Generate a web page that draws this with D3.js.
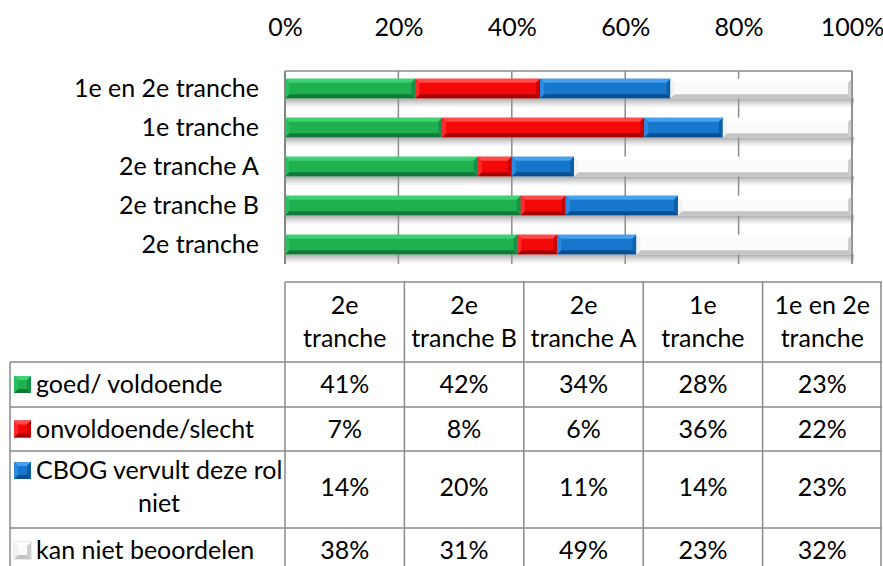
<!DOCTYPE html>
<html>
<head>
<meta charset="utf-8">
<script src="https://cdn.jsdelivr.net/npm/d3@7"></script>
<style>
  html, body { margin: 0; padding: 0; background: #fff; }
  svg { display: block; }
  text { font-family: "Lato", "Open Sans", sans-serif; fill: #000; }
</style>
</head>
<body>
<svg id="chart" width="883" height="566"></svg>
<script>
// ---------- DATA ----------
const barCategories = ["1e en 2e tranche", "1e tranche", "2e tranche A", "2e tranche B", "2e tranche"];
const tableColumns = ["2e tranche", "2e tranche B", "2e tranche A", "1e tranche", "1e en 2e tranche"];
const tableHeaderLines = [["2e", "tranche"], ["2e", "tranche B"], ["2e", "tranche A"], ["1e", "tranche"], ["1e en 2e", "tranche"]];
const seriesNames = ["goed/ voldoende", "onvoldoende/slecht", "CBOG vervult deze rol niet", "kan niet beoordelen"];
// values per series, in tableColumns order
const goed        = [41, 42, 34, 28, 23];
const onvoldoende = [7, 8, 6, 36, 22];
const cbog        = [14, 20, 11, 14, 23];
const kanNiet     = [38, 31, 49, 23, 32];
const axisTicks = [0, 0.2, 0.4, 0.6, 0.8, 1.0];

// ---------- STYLE ----------
const palette = [
  { main: "#1fb150", light: "#3fd272", dark: "#12793a", side: "#28c05e", rside: "#17924a" },
  { main: "#f50808", light: "#ff4a4a", dark: "#a80000", side: "#ff2a2a", rside: "#c80000" },
  { main: "#1677cc", light: "#46a0ee", dark: "#0a4f92", side: "#2a8ae0", rside: "#0d5fa8" },
  { main: "#fbfbfb", light: "#ffffff", dark: "#c4c4c4", side: "#f2f2f2", rside: "#cfcfcf" }
];
const seriesValues = [goed, onvoldoende, cbog, kanNiet];
const keys = seriesNames;

const rows = tableColumns.map((c, i) => {
  const o = { cat: c };
  keys.forEach((k, j) => o[k] = seriesValues[j][i]);
  return o;
});

const svg = d3.select("#chart");
const FS = 25;

const x = d3.scaleLinear().domain([0, 1]).range([285, 852]);
const y = d3.scaleBand().domain(barCategories).range([69, 264]).paddingInner(0.5).paddingOuter(0.25);

const defs = svg.append("defs");
const sg = defs.append("linearGradient").attr("id", "shadow").attr("x1", 0).attr("y1", 0).attr("x2", 0).attr("y2", 1);
sg.append("stop").attr("offset", "0%").attr("stop-color", "#808080").attr("stop-opacity", 0.7);
sg.append("stop").attr("offset", "100%").attr("stop-color", "#bbb").attr("stop-opacity", 0);

// ---------- PLOT FRAME & GRID ----------
const grid = svg.append("g");
const plotTop = 71, plotBottom = 264;
grid.selectAll("line.v").data(axisTicks.slice(1)).join("line")
  .attr("x1", d => x(d)).attr("x2", d => x(d))
  .attr("y1", plotTop).attr("y2", plotBottom)
  .attr("stroke", "#8a8a8a").attr("stroke-width", 1.5);
grid.append("line").attr("x1", x(0)).attr("x2", x(1)).attr("y1", plotTop).attr("y2", plotTop)
  .attr("stroke", "#8a8a8a").attr("stroke-width", 1.5);

// ---------- BARS ----------
const stack = d3.stack().keys(keys).offset(d3.stackOffsetExpand);
const stacked = stack(rows);

// shadows
svg.append("g").selectAll("rect").data(barCategories).join("rect")
  .attr("x", x(0)).attr("width", x(1) - x(0) + 2)
  .attr("y", d => y(d) + y.bandwidth()).attr("height", 10)
  .attr("fill", "url(#shadow)");

function bevel(g, x0, x1, y0, h, col) {
  const w = x1 - x0;
  const b = Math.min(4, w / 2, h / 2);
  const y1 = y0 + h;
  g.append("rect").attr("x", x0).attr("y", y0).attr("width", w).attr("height", h).attr("fill", col.main);
  const poly = (pts, fill) => g.append("polygon").attr("points", pts.map(p => p.join(",")).join(" ")).attr("fill", fill);
  poly([[x0, y0], [x1, y0], [x1 - b, y0 + b], [x0 + b, y0 + b]], col.light);
  poly([[x0, y1], [x1, y1], [x1 - b, y1 - b], [x0 + b, y1 - b]], col.dark);
  poly([[x0, y0], [x0 + b, y0 + b], [x0 + b, y1 - b], [x0, y1]], col.side);
  poly([[x1, y0], [x1 - b, y0 + b], [x1 - b, y1 - b], [x1, y1]], col.rside);
}

const barsG = svg.append("g");
stacked.forEach((s, si) => {
  s.forEach(d => {
    bevel(barsG, x(d[0]), x(d[1]), y(d.data.cat), y.bandwidth(), palette[si]);
  });
});

// left axis line
svg.append("line").attr("x1", x(0)).attr("x2", x(0)).attr("y1", plotTop).attr("y2", plotBottom)
  .attr("stroke", "#858585").attr("stroke-width", 2);
svg.append("line").attr("x1", x(1)).attr("x2", x(1)).attr("y1", plotTop).attr("y2", plotBottom)
  .attr("stroke", "#8a8a8a").attr("stroke-width", 1.5);

// ---------- AXES ----------
const topAxis = svg.append("g").attr("transform", "translate(0,36)")
  .call(d3.axisTop(x).tickValues(axisTicks).tickFormat(d3.format(".0%")).tickSize(0).tickPadding(0));
topAxis.select(".domain").remove();
topAxis.selectAll("text").style("font-size", FS + "px").style("font-family", "Lato").attr("fill", "#000");

const leftAxis = svg.append("g").attr("transform", `translate(${x(0)},0)`)
  .call(d3.axisLeft(y).tickSize(0).tickPadding(26));
leftAxis.select(".domain").remove();
leftAxis.selectAll("text").style("font-size", FS + "px").style("font-family", "Lato").attr("fill", "#000").attr("dy", "0.35em");

// ---------- DATA TABLE ----------
const tbl = svg.append("g");
const colX = d3.scaleBand().domain(tableColumns).range([285, 882]);
const headerTop = 282;
const rowTops = [362, 407, 451, 528];
const rowBottoms = [407, 451, 528, 573];
const labelLeft = 10;
const lineCol = "#8a8a8a";

// horizontal lines
tbl.append("line").attr("x1", colX.range()[0]).attr("x2", colX.range()[1]).attr("y1", headerTop).attr("y2", headerTop)
  .attr("stroke", lineCol).attr("stroke-width", 1.5);
tbl.selectAll("line.h").data(rowTops.concat([rowBottoms[rowBottoms.length - 1]])).join("line")
  .attr("x1", labelLeft).attr("x2", colX.range()[1]).attr("y1", d => d).attr("y2", d => d)
  .attr("stroke", lineCol).attr("stroke-width", 1.5);
// vertical lines
const vxs = tableColumns.map(c => colX(c)).concat([colX.range()[1] - 1]);
tbl.selectAll("line.vv").data(vxs).join("line")
  .attr("x1", d => d).attr("x2", d => d).attr("y1", headerTop).attr("y2", 573)
  .attr("stroke", lineCol).attr("stroke-width", 1.5);
tbl.append("line").attr("x1", labelLeft).attr("x2", labelLeft).attr("y1", rowTops[0]).attr("y2", 573)
  .attr("stroke", lineCol).attr("stroke-width", 1.5);

// header text
tableColumns.forEach((c, i) => {
  const cx = colX(c) + colX.bandwidth() / 2;
  tbl.append("text").attr("x", cx).attr("y", 305).attr("dy", "0.35em").attr("text-anchor", "middle")
    .style("font-size", FS + "px").text(tableHeaderLines[i][0]);
  tbl.append("text").attr("x", cx).attr("y", 338).attr("dy", "0.35em").attr("text-anchor", "middle")
    .style("font-size", FS + "px").text(tableHeaderLines[i][1]);
});

// row labels + legend icons + values
seriesNames.forEach((name, si) => {
  const cy = (rowTops[si] + rowBottoms[si]) / 2;
  const twoLine = si === 2;
  const firstY = twoLine ? cy - 19 : (si === 3 ? 384.5 + (rowTops[3] - rowTops[0]) : cy);
  const ig = tbl.append("g");
  bevel(ig, 14, 31, firstY - 8.5, 17, palette[si]);
  if (si === 3) ig.select("rect").attr("stroke", "#bdbdbd").attr("stroke-width", 0.6);
  if (twoLine) {
    tbl.append("text").attr("x", 36).attr("y", firstY).attr("dy", "0.35em").style("font-size", FS + "px").text("CBOG vervult deze rol");
    tbl.append("text").attr("x", 159).attr("y", firstY + 33).attr("dy", "0.35em").attr("text-anchor", "middle").style("font-size", FS + "px").text("niet");
  } else {
    tbl.append("text").attr("x", 36).attr("y", firstY).attr("dy", "0.35em").style("font-size", FS + "px").text(name);
  }
  const vy = twoLine ? cy - 2 : firstY;
  tableColumns.forEach((c, ci) => {
    tbl.append("text").attr("x", colX(c) + colX.bandwidth() / 2).attr("y", vy).attr("dy", "0.35em")
      .attr("text-anchor", "middle").style("font-size", FS + "px")
      .text(seriesValues[si][ci] + "%");
  });
});
</script>
</body>
</html>
